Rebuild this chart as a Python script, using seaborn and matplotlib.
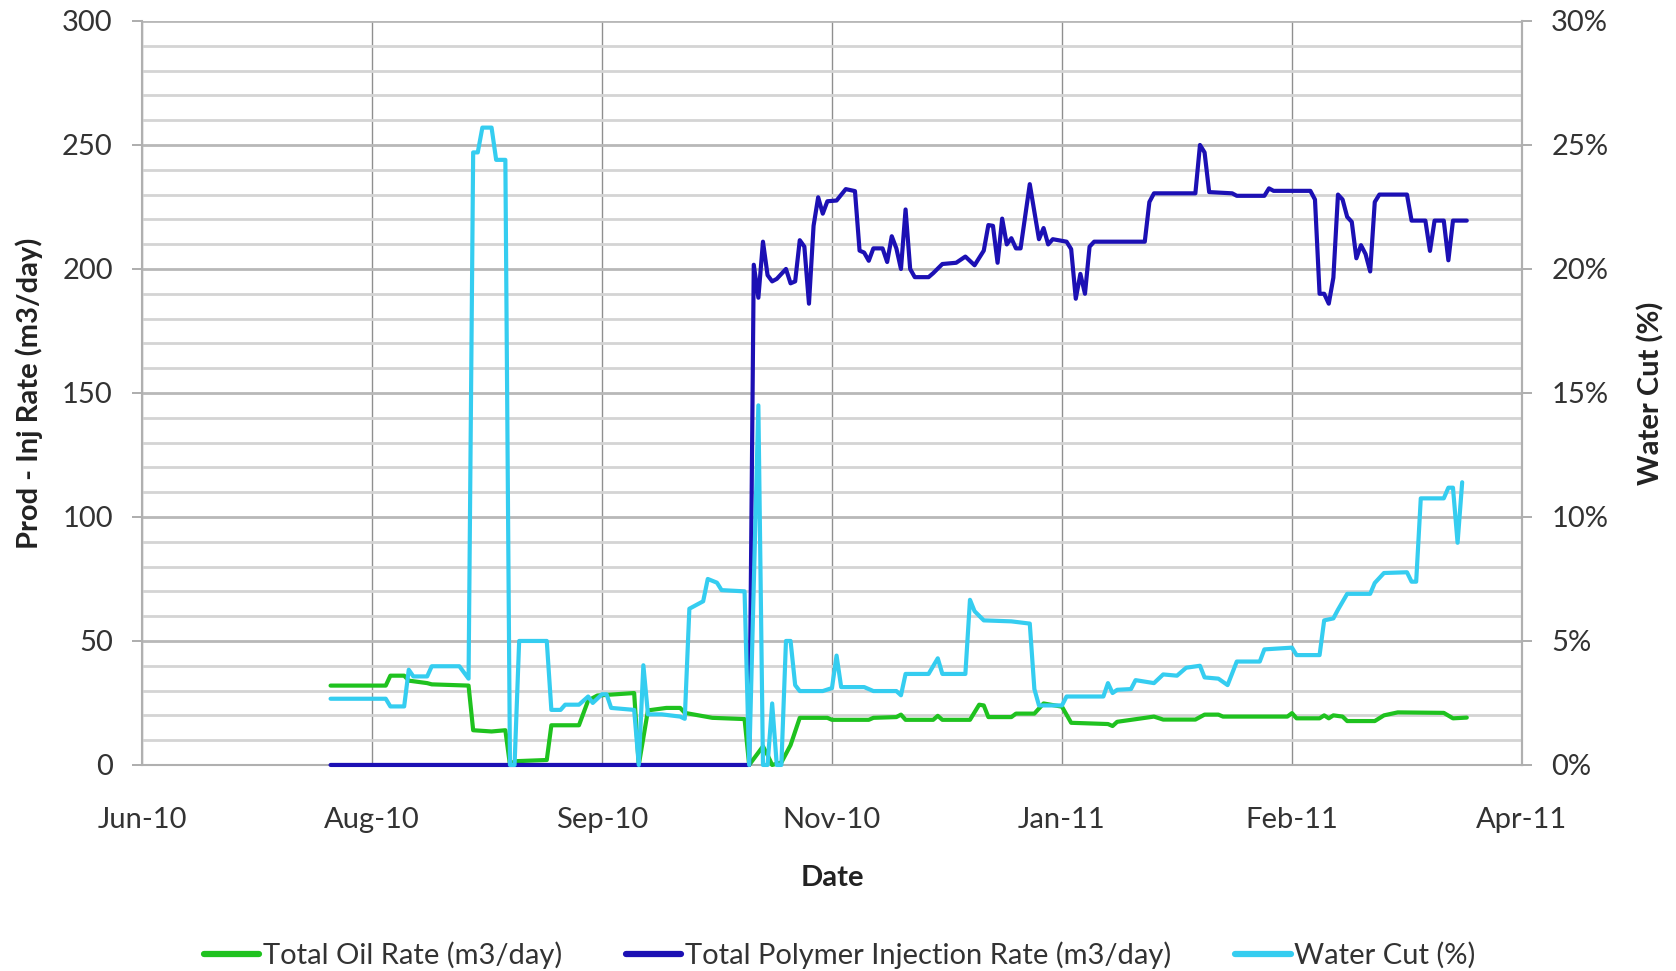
import pandas as pd
import seaborn as sns
import matplotlib.pyplot as plt
from matplotlib.ticker import MultipleLocator, FuncFormatter
from matplotlib.lines import Line2D

# Excel-style axis: origin 2010-06-18, one tick every 50 days
START = pd.Timestamp("2010-06-18")
TICK_STEP = 50
N_TICKS = 7
tick_labels = ["Jun-10", "Aug-10", "Sep-10", "Nov-10", "Jan-11", "Feb-11", "Apr-11"]

# ---- data (day = days after START) ----
oil_day = [41, 53, 54, 57, 58, 62, 63, 71, 72, 76, 79, 80, 81, 88, 89, 95, 97, 99,
           107, 108, 110, 114, 117, 118, 124, 131, 132, 134, 135, 136, 137, 139, 141,
           143, 149, 150, 158, 159, 164, 165, 166, 172, 173, 174, 180, 182, 183, 184,
           189, 190, 194, 196, 200, 202, 210, 211, 212, 220, 222, 229, 231, 234, 235,
           249, 250, 251, 256, 257, 258, 259, 261, 262, 268, 270, 273, 283, 285, 288]
oil_rate = [32, 32, 36, 36, 34, 33, 32.5, 32, 14, 13.5, 14, 0, 1.5, 2, 16, 16, 26, 28,
            29, 0, 22, 23, 23, 21, 19, 18.5, 0, 5, 7.5, 4, 0, 1, 8,
            19, 19, 18.2, 18.2, 19, 19.3, 20.3, 18.2, 18.2, 19.8, 18.2, 18.2, 24.3, 24, 19.3,
            19.3, 20.7, 20.7, 24.8, 23.5, 17, 16.5, 15.7, 17.4, 19.5, 18.3, 18.3, 20.3, 20.3, 19.5,
            19.5, 20.9, 18.8, 18.8, 20, 18.8, 20, 19.5, 17.7, 17.7, 20, 21.2, 21, 18.8, 19.1]

inj_day = [41, 132, 133, 134, 135, 136, 137, 138, 140, 141, 142, 143, 144, 145, 146, 147,
           148, 149, 151, 153, 155, 156, 157, 158, 159, 161, 162, 163, 164, 165, 166, 167,
           168, 171, 172, 174, 177, 179, 181, 183, 184, 185, 186, 187, 188, 189, 190, 191,
           193, 195, 196, 197, 198, 201, 202, 203, 204, 205, 206, 207, 218, 219, 220, 229,
           230, 231, 232, 237, 238, 244, 245, 246, 254, 255, 256, 257, 258, 259, 260, 261,
           262, 263, 264, 265, 266, 267, 268, 269, 275, 276, 279, 280, 281, 283, 284, 285, 288]
inj_rate = [0, 0, 201.7, 188.4, 211, 197.5, 195, 196, 200, 194.2, 195, 211.6, 209, 186, 217.4, 228.9,
            222.3, 227.3, 227.6, 232.2, 231.4, 207.4, 206.6, 203.3, 208.3, 208.3, 202.8, 213.2, 208.3, 200, 224, 200,
            196.7, 196.7, 198.3, 202, 202.5, 205, 201.5, 207.4, 217.7, 217.4, 202.5, 220.3, 209.9, 212.4, 208.3, 208.3,
            234.2, 212, 216.5, 209.9, 212, 211, 208, 188, 198, 190, 209, 211, 211, 227, 230.5, 230.5,
            250, 247, 231, 230.5, 229.5, 229.5, 232.5, 231.5, 231.5, 228, 190, 190, 186, 196.5, 230, 228,
            221, 219, 204.3, 209.6, 206, 199, 227, 230, 230, 219.5, 219.5, 207.3, 219.5, 219.5, 203.5, 219.5, 219.5]

wc_day = [41, 53, 54, 57, 58, 59, 62, 63, 69, 71, 72, 73, 74, 76, 77, 79, 80, 81, 82, 88,
          89, 91, 92, 95, 97, 98, 100, 101, 102, 107, 108, 109, 110, 113, 117, 118, 119, 120,
          122, 123, 125, 126, 131, 132, 134, 135, 136, 137, 138, 139, 140, 141, 142, 143, 148,
          150, 151, 152, 157, 159, 164, 165, 166, 171, 173, 174, 179, 180, 181, 183, 189, 193,
          194, 195, 200, 201, 209, 210, 211, 212, 215, 216, 220, 222, 225, 227, 230, 231, 234,
          236, 238, 243, 244, 250, 251, 256, 257, 259, 260, 262, 267, 268, 270, 275, 276, 277,
          278, 283, 284, 285, 286, 287]
wc_pct = [2.67, 2.67, 2.36, 2.36, 3.84, 3.57, 3.57, 3.98, 3.98, 3.48, 24.7, 24.7, 25.7, 25.7, 24.4, 24.4, 0, 0, 5.0, 5.0,
          2.22, 2.22, 2.43, 2.43, 2.76, 2.5, 2.85, 2.85, 2.3, 2.22, 0, 4.02, 2.04, 2.04, 1.95, 1.86, 6.3, 6.4,
          6.6, 7.5, 7.35, 7.05, 7.0, 0, 14.5, 0, 0, 2.48, 0, 0, 5.0, 5.0, 3.22, 2.98, 2.98,
          3.1, 4.41, 3.14, 3.14, 2.98, 2.98, 2.81, 3.67, 3.67, 4.3, 3.67, 3.67, 6.66, 6.2, 5.83, 5.79, 5.7,
          3.06, 2.4, 2.4, 2.76, 2.76, 3.3, 2.9, 3.03, 3.06, 3.42, 3.3, 3.65, 3.6, 3.92, 4.0, 3.53, 3.48,
          3.22, 4.17, 4.17, 4.66, 4.73, 4.43, 4.43, 5.83, 5.91, 6.26, 6.9, 6.9, 7.34, 7.74, 7.77, 7.39, 7.39,
          10.75, 10.75, 11.18, 11.18, 8.96, 11.4]

OIL_COLOR = "#1FC21F"
INJ_COLOR = "#1C10B4"
WC_COLOR = "#35CDF0"
LW = 3.0
FS = 21

sns.set_theme(style="white")
plt.rcParams["font.family"] = ["Lato", "DejaVu Sans"]


def to_dates(days):
    return START + pd.to_timedelta(days, unit="D")


oil = pd.DataFrame({"date": to_dates(oil_day), "val": oil_rate})
inj = pd.DataFrame({"date": to_dates(inj_day), "val": inj_rate})
wc = pd.DataFrame({"date": to_dates(wc_day), "val": wc_pct})

fig = plt.figure(figsize=(16.76, 9.71), dpi=100)
ax = fig.add_axes([0.0847, 0.2122, 0.8234, 0.7662])

# lines above the spines so the zero stretch is not hidden
line_kw = dict(lw=LW, estimator=None, errorbar=None, solid_joinstyle="round",
               clip_on=False, zorder=3)
sns.lineplot(data=oil, x="date", y="val", ax=ax, color=OIL_COLOR, **line_kw)
sns.lineplot(data=inj, x="date", y="val", ax=ax, color=INJ_COLOR, **line_kw)

# x axis: dates, tick every 50 days
ticks = [START + pd.Timedelta(days=TICK_STEP * i) for i in range(N_TICKS)]
ax.set_xlim(ticks[0], ticks[-1])
ax.set_xticks(ticks)
ax.set_xticklabels(tick_labels)

ax.set_ylim(0, 300)
ax.yaxis.set_major_locator(MultipleLocator(50))
ax.yaxis.set_minor_locator(MultipleLocator(10))
ax.grid(which="minor", axis="y", color="#d4d4d4", lw=2)
ax.grid(which="major", axis="y", color="#b8b8b8", lw=2)
ax.grid(which="major", axis="x", color="#8f8f8f", lw=1)
ax.set_axisbelow(True)

ax.spines["top"].set_visible(False)
for side in ["left", "right", "bottom"]:
    ax.spines[side].set_color("#b0b0b0")
    ax.spines[side].set_linewidth(1.5)

ax.tick_params(axis="both", which="major", direction="out", length=7, width=1.2,
               color="#a0a0a0", labelsize=FS, labelcolor="#333333")
ax.tick_params(axis="x", pad=23)
ax.tick_params(axis="y", pad=14)
ax.tick_params(which="minor", length=0)

ax.set_xlabel("Date", fontsize=FS, fontweight="bold", color="#222222")
ax.set_ylabel("Prod - Inj Rate (m3/day)", fontsize=FS, fontweight="bold", color="#222222")
ax.xaxis.set_label_coords(0.5, -0.135)
ax.yaxis.set_label_coords(-0.072, 0.5)

# right axis: water cut
ax2 = ax.twinx()
sns.lineplot(data=wc, x="date", y="val", ax=ax2, color=WC_COLOR, **line_kw)
ax2.set_ylim(0, 30)
ax2.yaxis.set_major_locator(MultipleLocator(5))
ax2.yaxis.set_major_formatter(FuncFormatter(lambda v, p: f"{v:.0f}%"))
ax2.grid(False)
for side in ["top", "left", "bottom"]:
    ax2.spines[side].set_visible(False)
ax2.spines["right"].set_color("#b0b0b0")
ax2.spines["right"].set_linewidth(1.5)
ax2.tick_params(axis="y", direction="out", length=7, width=1.2, color="#a0a0a0",
                labelsize=FS, labelcolor="#333333", pad=14)
ax2.set_ylabel("Water Cut (%)", fontsize=FS, fontweight="bold", color="#222222", rotation=90)
ax2.yaxis.set_label_coords(1.0838, 0.5)
ax2.set_xlim(ticks[0], ticks[-1])
ax2.set_xlabel("")

handles = [Line2D([], [], color=OIL_COLOR, lw=4.5),
           Line2D([], [], color=INJ_COLOR, lw=4.5),
           Line2D([], [], color=WC_COLOR, lw=4.5)]
labels = ["Total Oil Rate (m3/day)", "Total Polymer Injection Rate (m3/day)", "Water Cut (%)"]
fig.legend(handles, labels, loc="center", bbox_to_anchor=(0.501, 0.0165), ncol=3,
           frameon=False, fontsize=FS, handlelength=1.9, handletextpad=0.12,
           columnspacing=2.2, labelcolor="#333333")

fig.savefig("out.png", dpi=100)
